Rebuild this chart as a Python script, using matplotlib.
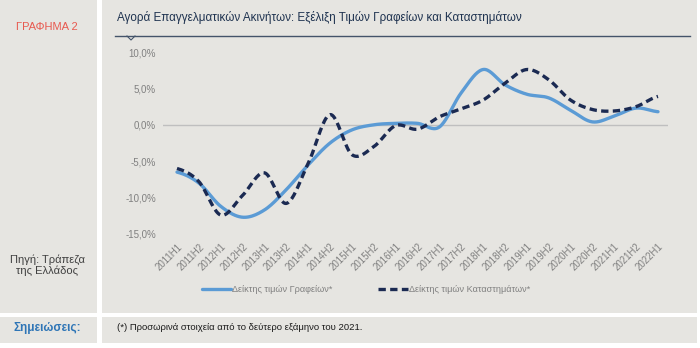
import numpy as np
import matplotlib.pyplot as plt
from matplotlib.patches import Rectangle
from matplotlib.lines import Line2D

plt.rcParams['font.family'] = ['Liberation Sans', 'DejaVu Sans']

periods = ['2011H1', '2011H2', '2012H1', '2012H2', '2013H1', '2013H2', '2014H1', '2014H2',
           '2015H1', '2015H2', '2016H1', '2016H2', '2017H1', '2017H2', '2018H1', '2018H2',
           '2019H1', '2019H2', '2020H1', '2020H2', '2021H1', '2021H2', '2022H1']
# δείκτης τιμών γραφείων, % ετήσια μεταβολή
offices = [-6.5, -8.0, -11.2, -12.7, -11.7, -8.9, -5.5, -2.5, -0.7, 0.0, 0.2, 0.2,
           -0.3, 4.4, 7.6, 5.5, 4.2, 3.7, 2.0, 0.4, 1.2, 2.3, 1.8]
# δείκτης τιμών καταστημάτων
shops = [-6.0, -7.8, -12.4, -9.7, -6.6, -10.8, -5.3, 1.4, -4.1, -3.0, -0.1, -0.6,
         1.1, 2.2, 3.4, 5.7, 7.6, 6.2, 3.4, 2.1, 1.9, 2.5, 3.9]
yticks = [10, 5, 0, -5, -10, -15]


def smooth(y, n=20):
    # catmull-rom, όπως οι εξομαλυμένες γραμμές του excel
    y = np.asarray(y, float)
    p = np.concatenate([[y[0]], y, [y[-1]]])
    xs, ys = [], []
    for i in range(len(y) - 1):
        p0, p1, p2, p3 = p[i], p[i + 1], p[i + 2], p[i + 3]
        t = np.linspace(0, 1, n, endpoint=False)
        v = 0.5 * (2 * p1 + (-p0 + p2) * t + (2 * p0 - 5 * p1 + 4 * p2 - p3) * t ** 2
                   + (-p0 + 3 * p1 - 3 * p2 + p3) * t ** 3)
        xs.append(i + t)
        ys.append(v)
    xs.append([len(y) - 1])
    ys.append([y[-1]])
    return np.concatenate(xs), np.concatenate(ys)


W, H = 700, 348
bg = '#e6e5e1'
fig = plt.figure(figsize=(W / 100, H / 100), dpi=100)
fig.patch.set_facecolor('white')


def box(x0, y0, x1, y1):
    fig.patches.append(Rectangle((x0 / W, 1 - y1 / H), (x1 - x0) / W, (y1 - y0) / H,
                                 transform=fig.transFigure, facecolor=bg, edgecolor='none', zorder=-5))


box(0, 0, 97, 313)
box(102, 0, 697, 313)
box(0, 317, 97, 343)
box(102, 317, 697, 343)

fig.text(47 / W, 1 - 27 / H, 'ΓΡΑΦΗΜΑ 2', color='#e8594f', fontsize=8, ha='center', va='center')
fig.text(47 / W, 1 - 265 / H, 'Πηγή: Τράπεζα\nτης Ελλάδος', color='#404040', fontsize=8,
         ha='center', va='center', linespacing=1.1)
fig.text(47 / W, 1 - 328 / H, 'Σημειώσεις:', color='#2e75b6', fontsize=8.5, fontweight='bold',
         ha='center', va='center')
fig.text(117 / W, 1 - 327 / H, '(*) Προσωρινά στοιχεία από το δεύτερο εξάμηνο του 2021.',
         color='#1a1a1a', fontsize=6.8, ha='left', va='center')

fig.text(117 / W, 1 - 18 / H, 'Αγορά Επαγγελματικών Ακινήτων: Εξέλιξη Τιμών Γραφείων και Καταστημάτων',
         color='#1f3350', fontsize=8.4, ha='left', va='center')
# γραμμή κάτω από τον τίτλο με μικρή εγκοπή
lc = '#44546a'
fig.lines.append(Line2D([115 / W, 690 / W], [1 - 36 / H, 1 - 36 / H], transform=fig.transFigure,
                        color=lc, lw=1.0))
fig.lines.append(Line2D([127 / W, 131 / W, 135 / W], [1 - 36 / H, 1 - 40 / H, 1 - 36 / H],
                        transform=fig.transFigure, color=lc, lw=0.8))

ax = fig.add_axes([163 / W, 1 - 237.6 / H, (668 - 163) / W, 189.2 / H])
ax.set_facecolor('none')
x = np.arange(len(periods))
ax.set_xlim(-(177 - 163) / 21.86, 22 + 10 / 21.86)
ax.set_ylim(-15.5, 10.5)

ax.axhline(0, color='#bfbfbf', lw=1, zorder=1)
sx, sy = smooth(offices)
ax.plot(sx, sy, color='#5b9bd5', lw=2.4, solid_capstyle='round', label='Δείκτης τιμών Γραφείων*', zorder=3)
sx, sy = smooth(shops)
ax.plot(sx, sy, color='#1b2a52', lw=2.4, ls=(0, (2.2, 1.3)), label='Δείκτης τιμών Καταστημάτων*', zorder=4)

ax.set_yticks(yticks)
ax.set_yticklabels([f'{v:.1f}%'.replace('.', ',') for v in yticks])
ax.set_xticks(x)
ax.set_xticklabels(periods, rotation=45, ha='right', rotation_mode='anchor')
ax.tick_params(axis='both', length=0, labelsize=7, labelcolor='#808080')
ax.tick_params(axis='y', pad=5)
ax.tick_params(axis='x', pad=3)
for s in ax.spines.values():
    s.set_visible(False)

fig.legend(loc='center', bbox_to_anchor=(366 / W, 1 - 290 / H), ncol=2, frameon=False,
           fontsize=6.6, labelcolor='#808080', handlelength=3.2, handletextpad=0.1, columnspacing=5)

fig.savefig('out.png', dpi=100, facecolor='white')
